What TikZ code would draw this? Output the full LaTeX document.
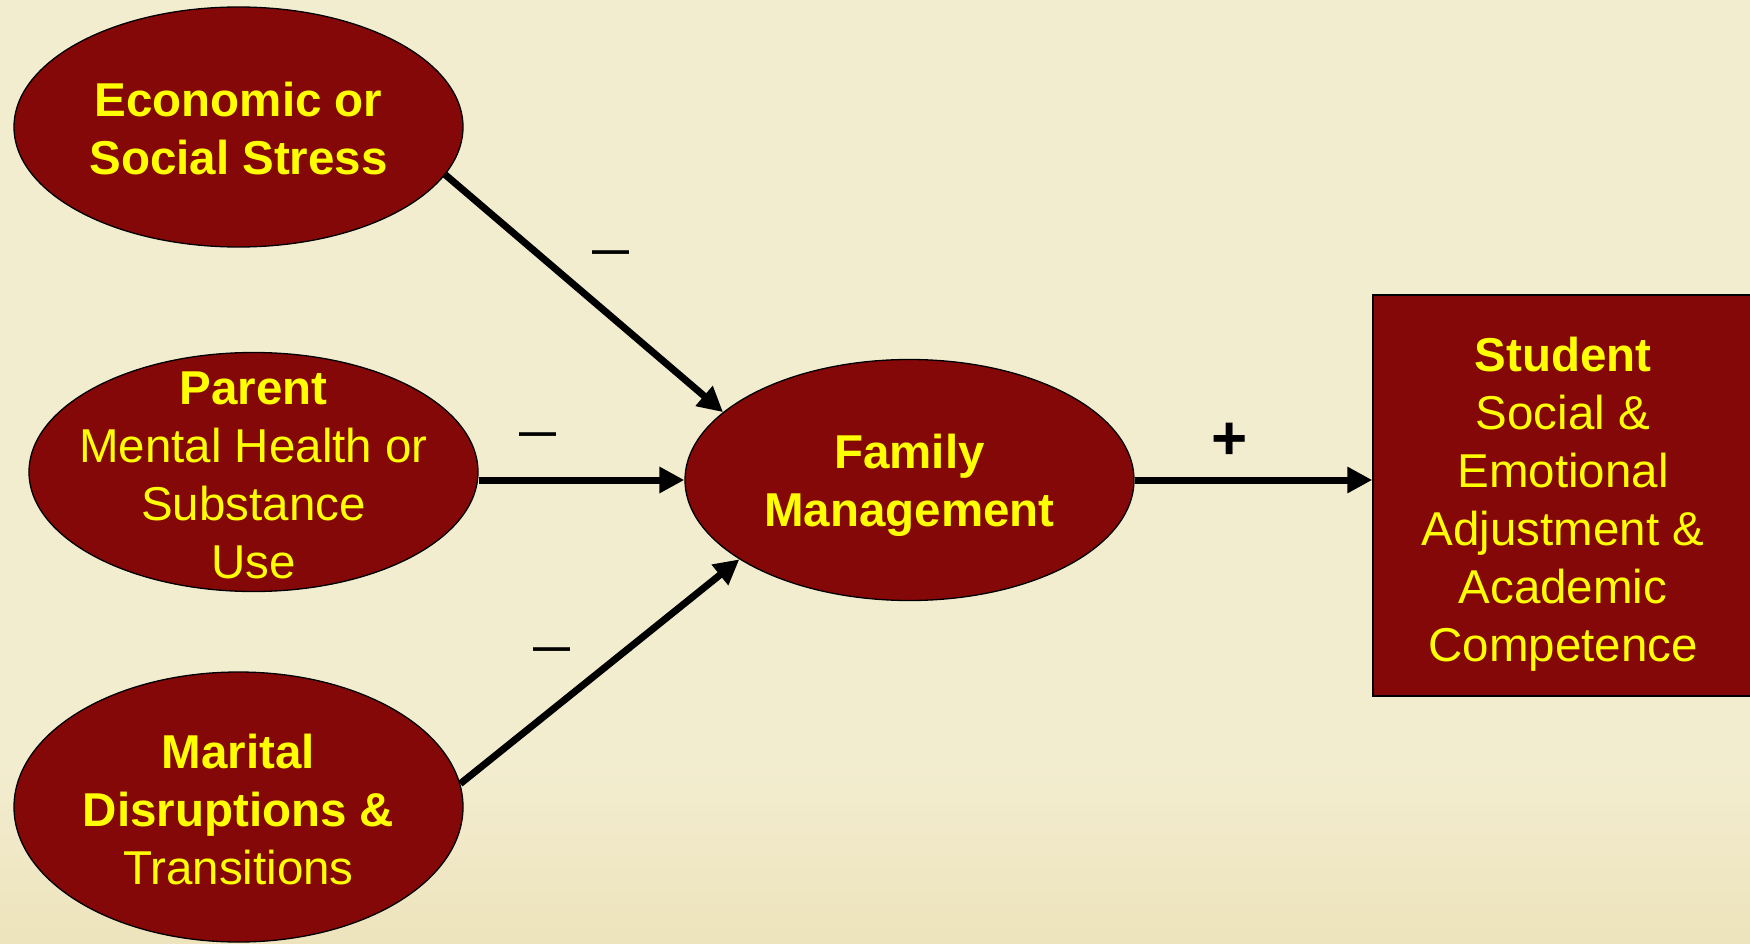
\documentclass[tikz,border=0pt]{standalone}
\usepackage{fontspec}
\setmainfont{Liberation Sans}
\usetikzlibrary{shapes.geometric,arrows.meta}
\definecolor{bgpaper}{RGB}{243,237,208}
\definecolor{bgdark}{RGB}{237,227,188}
\definecolor{boxred}{RGB}{133,8,8}
\definecolor{txtyellow}{RGB}{255,255,0}
\tikzset{
  oval/.style={ellipse, draw=black, line width=1.3pt, fill=boxred, inner sep=0pt},
  ovaltext/.style={text=txtyellow, align=center, font=\fontsize{47.5}{58}\selectfont, inner sep=0pt},
  outbox/.style={rectangle, draw=black, line width=1.5pt, fill=boxred, text=txtyellow,
    align=center, font=\fontsize{47.5}{58}\selectfont, inner sep=0pt},
  arr/.style={line width=7pt, -{Triangle[length=25pt,width=25pt]}},
  signmark/.style={font=\bfseries\fontsize{37}{37}\selectfont, inner sep=0pt},
  plusmark/.style={font=\bfseries\fontsize{62}{62}\selectfont, inner sep=0pt}
}
\begin{document}
\begin{tikzpicture}[x=1pt,y=-1pt]
\useasboundingbox (0,0) rectangle (1750,944);
\fill[bgpaper] (0,0) rectangle (1750,944);
\shade[top color=bgpaper, bottom color=bgdark] (0,760) rectangle (1750,944);

\node[oval, minimum width=449pt, minimum height=240pt,
  label={[ovaltext, yshift=-2pt]center:{\bfseries Economic or\\\bfseries Social Stress}}] (eco) at (238.5,127) {};
\node[oval, minimum width=449pt, minimum height=239pt,
  label={[ovaltext, yshift=-3pt]center:{\bfseries Parent\\Mental Health or\\Substance\\Use}}] (par) at (253.5,472) {};
\node[oval, minimum width=449pt, minimum height=270pt,
  label={[ovaltext, yshift=-3pt]center:{\bfseries Marital\\\bfseries Disruptions \&\\Transitions}}] (mar) at (238.5,807) {};
\node[oval, minimum width=449pt, minimum height=241pt,
  label={[ovaltext, yshift=-5pt]center:{\bfseries Family\\\bfseries Management}}] (fam) at (909.5,480) {};
\node[outbox, minimum width=380pt, minimum height=401pt] (stu) at (1563,495.5)
  {\rule{0pt}{52pt}\bfseries Student\\Social \&\\Emotional\\Adjustment \&\\Academic\\Competence};

\draw[arr] (eco.-13.3) -- (fam.160.7);
\draw[arr] (par.east |- fam.west) -- (fam.west);
\draw[arr] (mar.6.1) -- (fam.-155.4);
\draw[arr] (fam.east) -- (fam.east -| stu.west);

\node[signmark] (m1) at (611,257) {—};
\node[signmark] (m2) at (538,439) {—};
\node[signmark] (m3) at (552,654) {—};
\node[plusmark] (p1) at (1230,441) {+};
\end{tikzpicture}
\end{document}
